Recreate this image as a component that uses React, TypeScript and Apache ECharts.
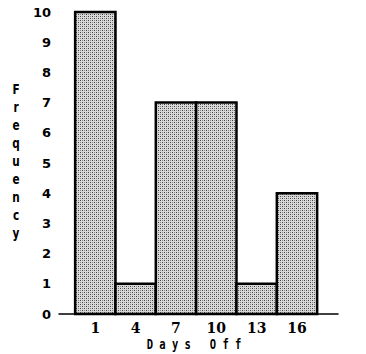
import React, { useEffect, useRef } from "react";
import * as echarts from "echarts";

const daysOff = [1, 4, 7, 10, 13, 16];
const frequency = [10, 1, 7, 7, 1, 4];
const binWidth = 3;
const yTicks = [0, 1, 2, 3, 4, 5, 6, 7, 8, 9, 10];
const yLabel = "Frequency";
const xLabel = "D a y s   O f f";

function makePattern(): string {
  const c = document.createElement("canvas");
  c.width = 4;
  c.height = 4;
  const ctx = c.getContext("2d")!;
  ctx.fillStyle = "#d9d9d9";
  ctx.fillRect(0, 0, 4, 4);
  ctx.fillStyle = "#444444";
  ctx.fillRect(0, 0, 1, 1);
  ctx.fillRect(2, 2, 1, 1);
  ctx.fillStyle = "#888888";
  ctx.fillRect(2, 0, 1, 1);
  ctx.fillRect(0, 2, 1, 1);
  return c.toDataURL();
}

export default function App() {
  const ref = useRef<HTMLDivElement>(null);
  useEffect(() => {
    if (!ref.current) return;
    const chart = echarts.init(ref.current, undefined, { renderer: "svg" });
    const pattern = makePattern();
    const data = daysOff.map((d, i) => [d, frequency[i]]);
    chart.setOption({
      animation: false,
      backgroundColor: "#ffffff",
      grid: { left: 59, right: 28, top: 12, bottom: 40 },
      xAxis: {
        type: "value",
        min: -1.7,
        max: 19.05,
        splitLine: { show: false },
        axisTick: { show: false },
        axisLine: { show: true, lineStyle: { color: "#000", width: 1.5 } },
        axisLabel: {
          customValues: daysOff,
          color: "#000",
          fontWeight: "bold",
          fontSize: 14,
          fontFamily: "DejaVu Serif",
          margin: 7,
        },
      },
      yAxis: {
        type: "value",
        min: 0,
        max: 10,
        interval: 1,
        splitLine: { show: false },
        axisLine: { show: true, lineStyle: { color: "#000", width: 1.5 } },
        axisTick: { show: true, inside: true, length: 9, lineStyle: { color: "#000", width: 1.5 } },
        axisLabel: {
          color: "#000",
          fontWeight: "bold",
          fontSize: 13,
          fontFamily: "DejaVu Sans",
          margin: 8,
          customValues: yTicks,
        },
      },
      series: [
        {
          type: "custom",
          data,
          renderItem: (params: any, api: any) => {
            const x = api.value(0);
            const y = api.value(1);
            const p1 = api.coord([x - binWidth / 2, y]);
            const p2 = api.coord([x + binWidth / 2, 0]);
            return {
              type: "rect",
              shape: { x: p1[0], y: p1[1], width: p2[0] - p1[0], height: p2[1] - p1[1] },
              style: {
                fill: { image: pattern, repeat: "repeat" },
                stroke: "#000",
                lineWidth: 2.5,
              },
            };
          },
        },
      ],
      graphic: [
        {
          type: "text",
          x: 16,
          y: 80,
          scaleX: 0.75,
          style: {
            text: yLabel.split("").join("\n"),
            fontSize: 14,
            fontWeight: "bold",
            fontFamily: "DejaVu Sans",
            lineHeight: 18,
            fill: "#000",
            align: "center",
            verticalAlign: "top",
          },
        },
        {
          type: "text",
          x: 194,
          y: 344,
          scaleX: 0.75,
          style: {
            text: xLabel,
            fontSize: 14,
            fontWeight: "bold",
            fontFamily: "DejaVu Sans Mono",
            fill: "#000",
            align: "center",
            verticalAlign: "middle",
          },
        },
      ],
    });
    return () => chart.dispose();
  }, []);
  return (
    <div
      ref={ref}
      style={{ width: 366, height: 354, position: "fixed", left: 0, top: 0 }}
    />
  );
}
